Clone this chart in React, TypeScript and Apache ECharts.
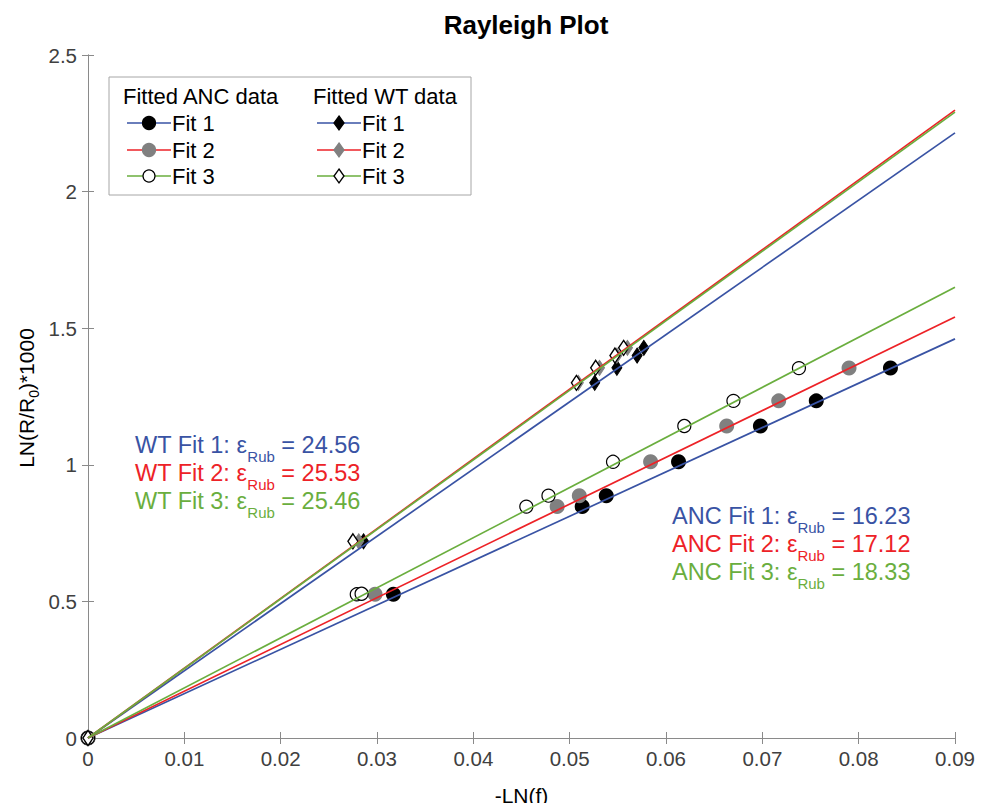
import React, { useEffect, useRef } from "react";
import * as echarts from "echarts";

// ---------- data ----------
const ancLevels = [0, 0.526, 0.847, 0.887, 1.011, 1.142, 1.234, 1.354];
const ancFit1X = [0, 0.0317, 0.0513, 0.0538, 0.0613, 0.0698, 0.0756, 0.0833];
const ancFit2X = [0, 0.0298, 0.0487, 0.051, 0.0584, 0.0663, 0.0717, 0.079];
const ancFit3X = [0, 0.0279, 0.0455, 0.0478, 0.0545, 0.0619, 0.067, 0.0738];
const ancFit3Extra: [number, number][] = [[0.0284, 0.528]];

const wtLevels = [0, 0.72, 1.3, 1.355, 1.4, 1.428];
const wtFit1X = [0, 0.0286, 0.0526, 0.0549, 0.057, 0.0577];
const wtFit2X = [0, 0.0281, 0.0509, 0.0531, 0.0549, 0.056];
const wtFit3X = [0, 0.0275, 0.0507, 0.0527, 0.0547, 0.0556];

// fitted lines: value at x = 0 and at x = 0.09
const lineX = [0, 0.09];
const wtLine1Y = [0, 2.215];
const wtLine2Y = [0, 2.298];
const wtLine3Y = [0, 2.291];
const ancLine1Y = [0, 1.461];
const ancLine2Y = [0, 1.541];
const ancLine3Y = [0, 1.65];

const wtLabels = ["WT Fit 1: ", "WT Fit 2: ", "WT Fit 3: "];
const wtEps = ["24.56", "25.53", "25.46"];
const ancLabels = ["ANC Fit 1: ", "ANC Fit 2: ", "ANC Fit 3: "];
const ancEps = ["16.23", "17.12", "18.33"];

const BLUE = "#3953a4";
const RED = "#ed2227";
const GREEN = "#6aae3e";
const FONT = "Liberation Sans, Arial, Helvetica, sans-serif";

const pairs = (xs: number[], ys: number[]) => xs.map((x, i) => [x, ys[i]]);

export default function App() {
  const ref = useRef<HTMLDivElement>(null);
  useEffect(() => {
    if (!ref.current) return;
    const chart = echarts.init(ref.current, null, { renderer: "svg" });

    const lineSeries = (ys: number[], color: string) => ({
      type: "line",
      data: pairs(lineX, ys),
      showSymbol: false,
      symbol: "none",
      lineStyle: { color, width: 1.7 },
      z: 5,
      silent: true,
    });
    const scatter = (data: number[][], symbol: string, size: any, fill: string, border: string, bw: number) => ({
      type: "scatter",
      data,
      symbol,
      symbolSize: size,
      clip: false,
      itemStyle: { color: fill, borderColor: border, borderWidth: bw, opacity: 1 },
      z: 3,
      silent: true,
    });

    const annot = (labels: string[], eps: string[], x: number, y0: number) =>
      labels.map((lab, i) => {
        const c = [BLUE, RED, GREEN][i];
        return {
          type: "text",
          left: x,
          top: y0 + i * 28,
          style: {
            text: `{a|${lab}ε}{s|Rub}{a| = ${eps[i]}}`,
            rich: {
              a: { fontSize: 23.5, fontFamily: FONT, fill: c, lineHeight: 38 },
              s: { fontSize: 15, fontFamily: FONT, fill: c, lineHeight: 16, verticalAlign: "bottom" },
            },
          },
        };
      });

    // legend drawn with graphics
    const legendRow = (x0: number, y: number, color: string, marker: any, label: string) => [
      { type: "line", shape: { x1: x0, y1: y, x2: x0 + 44, y2: y }, style: { stroke: color, lineWidth: 1.7 } },
      marker,
      {
        type: "text",
        x: x0 + 45,
        y,
        style: { text: label, fontSize: 22, fontFamily: FONT, fill: "#000", verticalAlign: "middle" },
      },
    ];
    const circ = (cx: number, cy: number, fill: string, stroke: string, r: number) => ({
      type: "circle",
      shape: { cx, cy, r },
      style: { fill, stroke, lineWidth: 1.2 },
    });
    const diam = (cx: number, cy: number, fill: string, stroke: string) => ({
      type: "polygon",
      shape: { points: [[cx, cy - 7], [cx + 5, cy], [cx, cy + 7], [cx - 5, cy]] },
      style: { fill, stroke, lineWidth: 1.3 },
    });

    const legendItems: any[] = [
      { type: "rect", shape: { x: 109, y: 77, width: 362, height: 118 }, style: { fill: "#fff", stroke: "#a6a6a6", lineWidth: 1 } },
      { type: "text", x: 123, y: 96, style: { text: "Fitted ANC data", fontSize: 22, fontFamily: FONT, fill: "#000", verticalAlign: "middle" } },
      { type: "text", x: 313, y: 96, style: { text: "Fitted WT data", fontSize: 22, fontFamily: FONT, fill: "#000", verticalAlign: "middle" } },
      ...legendRow(127, 123, BLUE, circ(149, 123, "#000", "#000", 6.5), "Fit 1"),
      ...legendRow(127, 150, RED, circ(149, 150, "#808080", "#808080", 6.5), "Fit 2"),
      ...legendRow(127, 176, GREEN, circ(149, 176, "#fff", "#000", 6), "Fit 3"),
      ...legendRow(317, 123, BLUE, diam(339, 123, "#000", "#000"), "Fit 1"),
      ...legendRow(317, 150, RED, diam(339, 150, "#808080", "#808080"), "Fit 2"),
      ...legendRow(317, 176, GREEN, diam(339, 176, "#fff", "#000"), "Fit 3"),
    ];

    const axisCommon = {
      min: 0,
      axisLine: { show: true, lineStyle: { color: "#8a8a8a", width: 1 } },
      axisTick: { show: true, inside: true, length: 6, lineStyle: { color: "#8a8a8a" } },
      splitLine: { show: false },
    };

    chart.setOption({
      animation: false,
      title: {
        text: "Rayleigh Plot",
        left: 521,
        textAlign: "center",
        top: 7,
        textStyle: { fontSize: 26, fontWeight: "bold", fontFamily: FONT, color: "#000" },
      },
      grid: { left: 88, right: 30, top: 55, bottom: 71 },
      xAxis: [
        {
          ...axisCommon,
          type: "value",
          max: 0.09,
          interval: 0.01,
          position: "bottom",
          name: "-LN(f)",
          nameLocation: "middle",
          nameGap: 47,
          nameTextStyle: { fontSize: 21, fontFamily: FONT, color: "#000" },
          axisLabel: {
            fontSize: 20.5,
            fontFamily: FONT,
            color: "#404040",
            margin: 10,
            formatter: (v: number) => (v === 0 ? "0" : v.toFixed(2)),
          },
        },
        {
          ...axisCommon,
          type: "value",
          max: 0.09,
          interval: 0.01,
          position: "top",
          axisLabel: { show: false },
        },
      ],
      yAxis: [
        {
          ...axisCommon,
          type: "value",
          max: 2.5,
          interval: 0.5,
          position: "left",
          axisLabel: {
            fontSize: 20.5,
            fontFamily: FONT,
            color: "#404040",
            margin: 11,
            formatter: (v: number) => String(v),
          },
        },
        {
          ...axisCommon,
          type: "value",
          max: 2.5,
          interval: 0.5,
          position: "right",
          axisLabel: { show: false },
        },
      ],
      series: [
        scatter(pairs(ancFit1X, ancLevels), "circle", 15, "#000", "#000", 0),
        scatter(pairs(ancFit2X, ancLevels), "circle", 15, "#808080", "#808080", 0),
        scatter([...pairs(ancFit3X, ancLevels), ...ancFit3Extra], "circle", 13, "#fff", "#000", 1.2),
        scatter(pairs(wtFit1X, wtLevels), "diamond", [10, 15], "#000", "#000", 1),
        scatter(pairs(wtFit2X, wtLevels), "diamond", [10, 15], "#808080", "#808080", 1),
        scatter(pairs(wtFit3X, wtLevels), "diamond", [10, 15], "#fff", "#000", 1.4),
        lineSeries(ancLine1Y, BLUE),
        lineSeries(ancLine2Y, RED),
        lineSeries(ancLine3Y, GREEN),
        lineSeries(wtLine1Y, BLUE),
        lineSeries(wtLine2Y, RED),
        lineSeries(wtLine3Y, GREEN),
      ],
      graphic: [
        ...legendItems,
        {
          type: "text",
          x: 26,
          y: 398,
          rotation: Math.PI / 2,
          style: {
            text: "{a|LN(R/R}{s|0}{a|)*1000}",
            align: "center",
            verticalAlign: "middle",
            rich: {
              a: { fontSize: 21, fontFamily: FONT, fill: "#000", lineHeight: 30 },
              s: { fontSize: 14, fontFamily: FONT, fill: "#000", lineHeight: 14, verticalAlign: "bottom" },
            },
          },
        },
        ...annot(wtLabels, wtEps, 135, 433),
        ...annot(ancLabels, ancEps, 672, 504),
      ],
    });
    return () => chart.dispose();
  }, []);
  return <div ref={ref} style={{ width: 985, height: 811, margin: -8 }} />;
}
